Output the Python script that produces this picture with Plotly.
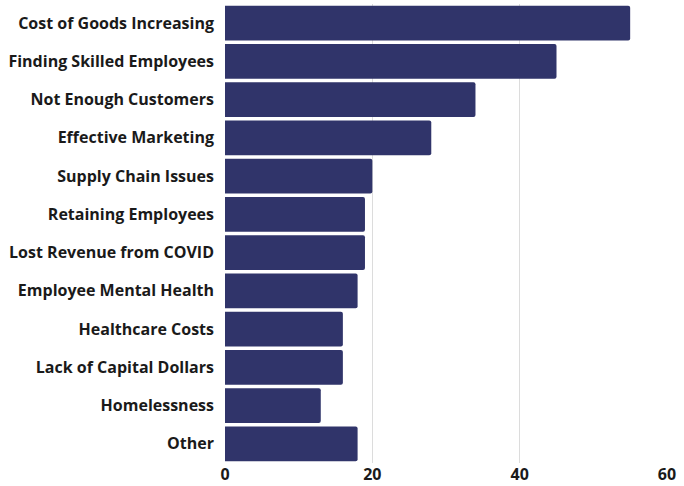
import plotly.graph_objects as go

categories = [
    "Cost of Goods Increasing",
    "Finding Skilled Employees",
    "Not Enough Customers",
    "Effective Marketing",
    "Supply Chain Issues",
    "Retaining Employees",
    "Lost Revenue from COVID",
    "Employee Mental Health",
    "Healthcare Costs",
    "Lack of Capital Dollars",
    "Homelessness",
    "Other",
]
values = [55, 45, 34, 28, 20, 19, 19, 18, 16, 16, 13, 18]
x_ticks = [0, 20, 40, 60]

fig = go.Figure(
    go.Bar(
        x=values,
        y=categories,
        orientation="h",
        marker=dict(color="#30346a", line=dict(width=0)),
        hoverinfo="x+y",
    )
)

fig.update_layout(
    width=684,
    height=486,
    margin=dict(l=225, r=17, t=4, b=23),
    paper_bgcolor="white",
    plot_bgcolor="white",
    bargap=0.09,
    barcornerradius=2,
    font=dict(family="Open Sans", size=16, color="#1a1a1a"),
    showlegend=False,
)
fig.update_xaxes(
    range=[0, 60],
    tickvals=x_ticks,
    showgrid=True,
    gridcolor="#dcdcdc",
    gridwidth=1,
    zeroline=False,
    showline=False,
    automargin=False,
    ticklabelstandoff=0,
    tickfont=dict(family="Open Sans", size=16, color="#1a1a1a", weight="bold"),
)
fig.update_yaxes(
    autorange="reversed",
    showgrid=False,
    zeroline=False,
    showline=False,
    automargin=False,
    ticklabelstandoff=10,
    tickfont=dict(family="Open Sans", size=16, color="#1a1a1a", weight="bold"),
)

fig.write_html("out.html")
